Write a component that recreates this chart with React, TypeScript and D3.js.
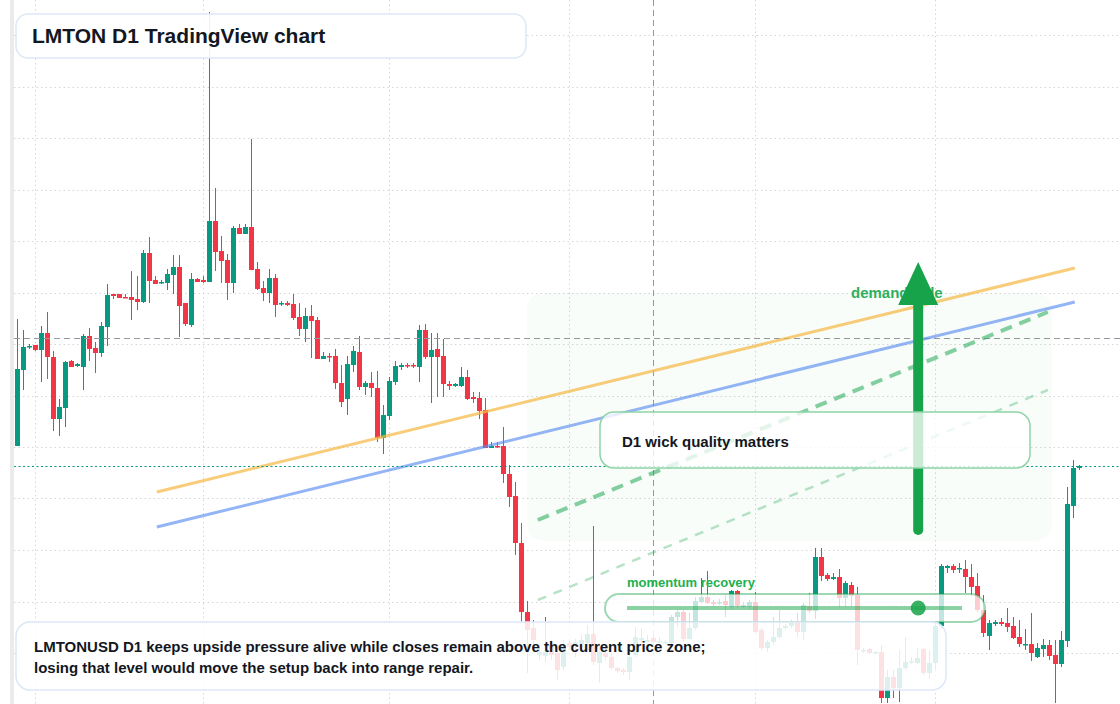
import React from 'react';
import * as d3 from 'd3';

// LMTONUSD daily candles (price in chart points)
const openPrices = [
  258, 334, 357, 359, 354, 371, 347, 285, 296, 343,
  338, 337, 368, 356, 351, 377, 410, 410, 407, 407,
  405, 402, 451, 424, 421, 421, 429, 437, 401, 379,
  425, 424, 422, 483, 453, 444, 421, 476, 470, 477,
  435, 416, 411, 426, 400, 401, 400, 387, 375, 388,
  384, 345, 348, 348, 321, 305, 339, 352, 317, 321,
  316, 266, 288, 322, 337, 339, 339, 337, 374, 347,
  355, 348, 320, 318, 318, 327, 307, 306, 294, 256,
  258, 258, 230, 208, 161, 92, 76, 49, 48, 59,
  51, 37, 61, 59, 60, 61, 70, 41, 51, 47,
  36, 34, 32, 49, 64, 63, 66, 62, 61, 61,
  87, 92, 65, 76, 102, 107, 102, 101, 103, 97,
  113, 97, 97, 102, 74, 56, 62, 67, 76, 78,
  81, 72, 98, 93, 147, 129, 125, 127, 106, 119,
  109, 53, 55, 51, 52, 6, 27, 16, 36, 42,
  41, 55, 31, 41, 78, 136, 138, 135, 135, 127,
  118, 94, 68, 80, 82, 81, 78, 67, 59, 60,
  47, 55, 59, 49, 40, 63, 198, 236,
];
const highPrices = [
  385, 374, 360, 359, 378, 392, 353, 305, 343, 344,
  341, 370, 376, 362, 382, 420, 410, 410, 410, 433,
  428, 454, 467, 428, 424, 435, 449, 449, 401, 431,
  426, 428, 692, 516, 468, 450, 478, 480, 480, 565,
  442, 423, 435, 430, 403, 403, 410, 401, 396, 399,
  387, 352, 351, 355, 339, 348, 358, 368, 323, 332,
  333, 299, 327, 343, 341, 341, 341, 379, 380, 371,
  371, 365, 323, 321, 337, 334, 312, 312, 306, 262,
  262, 277, 239, 222, 181, 103, 84, 59, 87, 64,
  54, 64, 64, 65, 69, 79, 178, 61, 56, 51,
  37, 36, 52, 77, 76, 69, 69, 67, 64, 89,
  94, 94, 91, 107, 126, 133, 104, 105, 109, 114,
  114, 102, 104, 112, 76, 64, 87, 94, 80, 84,
  91, 101, 111, 156, 156, 131, 131, 135, 123, 122,
  117, 56, 56, 53, 59, 34, 34, 54, 67, 47,
  56, 56, 54, 81, 140, 139, 140, 141, 144, 140,
  131, 109, 84, 84, 86, 96, 87, 84, 75, 91,
  61, 65, 64, 64, 73, 217, 244, 239,
];
const lowPrices = [
  258, 314, 355, 353, 322, 325, 273, 268, 277, 337,
  337, 314, 343, 331, 347, 358, 405, 406, 406, 384,
  394, 401, 401, 420, 420, 414, 410, 367, 378, 377,
  422, 421, 422, 433, 421, 404, 411, 470, 470, 434,
  414, 403, 401, 387, 398, 398, 384, 368, 362, 346,
  345, 345, 342, 315, 297, 289, 332, 314, 309, 307,
  262, 250, 284, 319, 334, 336, 336, 322, 345, 301,
  307, 307, 314, 317, 317, 304, 301, 285, 256, 256,
  256, 221, 197, 149, 82, 31, 51, 44, 42, 44,
  24, 34, 54, 47, 54, 59, 39, 21, 44, 34,
  31, 29, 24, 47, 61, 62, 61, 61, 60, 59,
  77, 62, 64, 74, 101, 100, 98, 99, 87, 95,
  96, 96, 95, 71, 54, 52, 59, 66, 74, 76,
  67, 64, 91, 85, 123, 123, 124, 97, 97, 97,
  39, 51, 50, 50, 1, 1, 6, 2, 34, 40,
  40, 29, 25, 34, 76, 131, 131, 131, 111, 108,
  92, 67, 54, 78, 78, 72, 65, 57, 54, 43,
  46, 47, 44, 1, 37, 57, 186, 234,
];
const closePrices = [
  335, 357, 358, 354, 371, 347, 285, 297, 342, 337,
  340, 368, 355, 351, 378, 409, 408, 406, 406, 404,
  402, 451, 423, 420, 422, 430, 437, 398, 380, 425,
  422, 422, 483, 452, 443, 421, 476, 470, 477, 434,
  415, 411, 426, 399, 401, 399, 386, 375, 388, 383,
  345, 348, 347, 321, 302, 340, 353, 317, 321, 316,
  266, 289, 323, 338, 339, 338, 338, 374, 347, 354,
  347, 320, 318, 320, 327, 305, 305, 293, 256, 258,
  257, 230, 207, 161, 92, 74, 64, 52, 52, 49,
  34, 59, 57, 62, 64, 70, 42, 52, 47, 36,
  33, 32, 47, 67, 66, 64, 62, 63, 62, 87,
  92, 65, 76, 103, 107, 101, 100, 102, 99, 113,
  98, 99, 102, 72, 56, 62, 67, 76, 78, 81,
  72, 99, 93, 147, 128, 125, 127, 106, 121, 108,
  54, 54, 51, 52, 6, 27, 16, 36, 42, 43,
  46, 31, 41, 78, 138, 138, 134, 136, 127, 117,
  94, 71, 81, 82, 80, 77, 66, 60, 60, 51,
  56, 59, 48, 40, 64, 200, 236, 238,
];

// grid: price levels and the bars where month lines fall
const gridPrices = d3.range(51, 700, 51.5);
const gridBars = [3, 31, 62, 92, 123, 153];

// drawings (bar index, price)
const orangeTrend = [{ bar: 23.3, price: 212 }, { bar: 176.3, price: 436 }];
const blueTrend = [{ bar: 23.3, price: 177 }, { bar: 176.3, price: 402 }];
const greenDash = [{ bar: 86.8, price: 184 }, { bar: 171.8, price: 392 }];
const greenDashLight = [{ bar: 86.8, price: 104 }, { bar: 171.8, price: 314 }];
const demandZone = { barFrom: 85, barTo: 172.5, priceTop: 411, priceBottom: 163 };
const arrowMove = { bar: 150.2, from: 174, to: 442 };
const crosshair = { bar: 106, price: 366 };

const GREEN = '#089981';
const RED = '#f23645';
const INK = '#131722';
const FONT = '"Liberation Sans", Arial, sans-serif';

type Pt = { bar: number; price: number };

export default function App() {
  const x = d3.scaleLinear().domain([0, 177]).range([17, 1079]);
  const y = d3.scaleLinear().domain([0, 704]).range([704, 0]);
  const line = d3.line<Pt>().x((d) => x(d.bar)).y((d) => y(d.price));

  const candles = openPrices.map((o, i) => ({
    i,
    o,
    h: highPrices[i],
    l: lowPrices[i],
    c: closePrices[i],
  }));

  const lastClose = closePrices[closePrices.length - 1];
  const ax = x(arrowMove.bar);
  const headTop = y(arrowMove.to);
  const headBase = headTop + 43;

  return (
    <svg
      width={1120}
      height={704}
      style={{ position: 'absolute', left: 0, top: 0, background: '#fff' }}
      fontFamily={FONT}
    >
      <rect x={0} y={0} width={1120} height={704} fill="#ffffff" />
      <rect x={10} y={0} width={4} height={704} fill="#ebebeb" />

      {/* grid */}
      <g stroke="#d6d6d6" strokeWidth={1} strokeDasharray="1.5 3">
        {gridPrices.map((p) => (
          <line key={'h' + p} x1={14} x2={1120} y1={Math.round(y(p)) + 0.5} y2={Math.round(y(p)) + 0.5} />
        ))}
        {gridBars.map((b) => (
          <line key={'v' + b} x1={x(b) + 0.5} x2={x(b) + 0.5} y1={0} y2={704} />
        ))}
      </g>

      {/* candles */}
      <g>
        {candles.map((d) => {
          const up = d.c >= d.o;
          const col = up ? GREEN : RED;
          const cx = x(d.i);
          const top = y(Math.max(d.o, d.c));
          const bot = y(Math.min(d.o, d.c));
          return (
            <g key={d.i}>
              <line x1={cx + 0.5} x2={cx + 0.5} y1={y(d.h)} y2={y(d.l)} stroke={col} strokeWidth={1} />
              <rect x={cx - 2} y={top} width={5} height={Math.max(1.5, bot - top)} fill={col} />
            </g>
          );
        })}
      </g>

      {/* crosshair */}
      <g stroke="#9598a1" strokeWidth={1} strokeDasharray="6 4">
        <line x1={14} x2={1120} y1={Math.round(y(crosshair.price)) + 0.5} y2={Math.round(y(crosshair.price)) + 0.5} />
        <line x1={x(crosshair.bar) + 0.5} x2={x(crosshair.bar) + 0.5} y1={0} y2={704} />
      </g>

      {/* demand zone */}
      <rect
        x={x(demandZone.barFrom)}
        y={y(demandZone.priceTop)}
        width={x(demandZone.barTo) - x(demandZone.barFrom)}
        height={y(demandZone.priceBottom) - y(demandZone.priceTop)}
        rx={16}
        fill="#22c55e"
        fillOpacity={0.03}
      />

      {/* trend lines */}
      <path d={line(orangeTrend) || ''} stroke="#f5b945" strokeOpacity={0.72} strokeWidth={3} fill="none" />
      <path d={line(blueTrend) || ''} stroke="#5b8def" strokeOpacity={0.65} strokeWidth={3} fill="none" />
      <path d={line(greenDash) || ''} stroke="#22a852" strokeOpacity={0.55} strokeWidth={4} strokeDasharray="12 8" fill="none" />
      <path d={line(greenDashLight) || ''} stroke="#22a852" strokeOpacity={0.32} strokeWidth={2.5} strokeDasharray="9 8" fill="none" />

      {/* current price line */}
      <line
        x1={14}
        x2={1120}
        y1={Math.round(y(lastClose)) + 0.5}
        y2={Math.round(y(lastClose)) + 0.5}
        stroke={GREEN}
        strokeWidth={1.2}
        strokeDasharray="2 2.5"
      />

      {/* demand label + arrow */}
      <text x={851} y={298} fontSize={15} fontWeight={700} fill="#2fae5a">
        demand side
      </text>
      <line x1={ax} x2={ax} y1={y(arrowMove.from)} y2={headBase - 2} stroke="#16a34a" strokeWidth={10} strokeLinecap="round" />
      <path d={`M${ax},${headTop} L${ax + 20},${headBase} L${ax - 20},${headBase} Z`} fill="#16a34a" />

      {/* D1 note */}
      <rect x={600} y={412} width={430} height={56} rx={14} fill="#ffffff" fillOpacity={0.78} stroke="#8fd4a6" strokeWidth={1.5} />
      <text x={622} y={447} fontSize={15} fontWeight={700} fill={INK}>
        D1 wick quality matters
      </text>

      {/* momentum pill */}
      <text x={627} y={587} fontSize={13} fontWeight={700} fill="#22b04e">
        momentum recovery
      </text>
      <rect x={605} y={594} width={380} height={28} rx={14} fill="#ffffff" fillOpacity={0.75} stroke="#16a34a" strokeOpacity={0.42} strokeWidth={2} />
      <line x1={627} x2={962} y1={608} y2={608} stroke="#16a34a" strokeOpacity={0.5} strokeWidth={4} />
      <circle cx={ax} cy={608} r={7.5} fill="#16a34a" fillOpacity={0.85} />

      {/* bottom note */}
      <rect x={16} y={622} width={930} height={68} rx={14} fill="#ffffff" fillOpacity={0.86} stroke="#dce7f8" strokeWidth={1.5} />
      <text x={34} y={652} fontSize={15} fontWeight={700} fill={INK}>
        LMTONUSD D1 keeps upside pressure alive while closes remain above the current price zone;
      </text>
      <text x={34} y={673} fontSize={15} fontWeight={700} fill={INK}>
        losing that level would move the setup back into range repair.
      </text>

      {/* title */}
      <rect x={16} y={14} width={510} height={44} rx={12} fill="#ffffff" fillOpacity={0.9} stroke="#dce7f8" strokeWidth={1.5} />
      <text x={32} y={43} fontSize={21} fontWeight={700} fill={INK}>
        LMTON D1 TradingView chart
      </text>
    </svg>
  );
}
